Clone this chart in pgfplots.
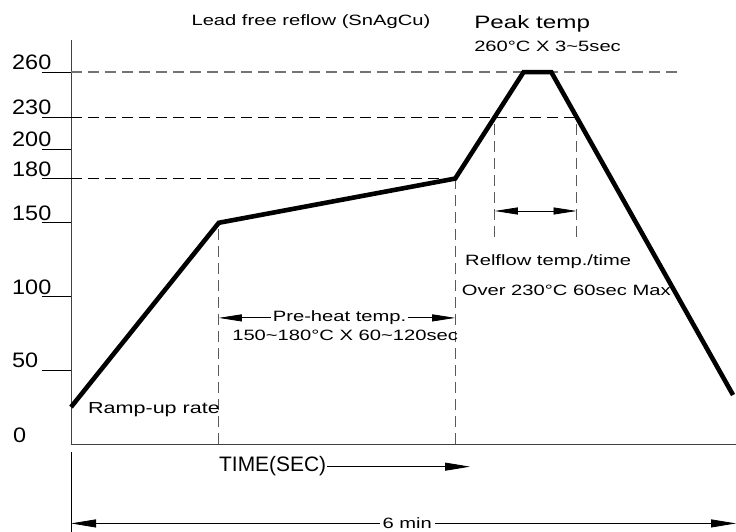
\documentclass[border=0pt]{standalone}
\usepackage{fontspec}
\setmainfont{Liberation Sans}
\newfontfamily\cad[FakeStretch=1.35]{Liberation Sans}
\newfontfamily\cadn[FakeStretch=1.12]{Liberation Sans}
\usepackage{pgfplots}
\pgfplotsset{compat=1.18}
\usetikzlibrary{arrows.meta}
\newcommand{\fs}[1]{\fontsize{#1}{#1}\selectfont}
\begin{document}
\begin{tikzpicture}
\begin{axis}[
  scale only axis, width=665bp, height=404bp,
  xmin=0, xmax=360, ymin=0, ymax=274,
  axis x line=bottom, axis y line=left,
  axis line style={-, black!75, line width=0.9bp},
  xtick=\empty,
  ytick={50,100,150,180,200,221.7,252.2},
  yticklabels={50,100,150,180,200,230,260},
  tick align=outside, major tick length=29bp,
  tick style={black, line width=0.7bp},
  yticklabel style={font=\cadn\fs{21}, anchor=base west, inner sep=0pt, xshift=-30bp, yshift=2.5bp},
  clip=false,
  /pgf/number format/assume math mode=true,
]
% dashed reference lines
\addplot[black!55, line width=1.6bp, dash pattern=on 11bp off 6bp] coordinates {(0,252.2) (328.6,252.2)};
\addplot[black, line width=1bp, dash pattern=on 11bp off 6bp] coordinates {(0,221.7) (273.7,221.7)};
\addplot[black, line width=1bp, dash pattern=on 11bp off 6bp] coordinates {(0,180) (208,180)};
\addplot[black!65, line width=1bp, dash pattern=on 11bp off 6bp] coordinates {(80,0) (80,150)};
\addplot[black!65, line width=1bp, dash pattern=on 11bp off 6bp] coordinates {(208,0) (208,180)};
\addplot[black!65, line width=1bp, dash pattern=on 11bp off 6bp] coordinates {(229.4,140.4) (229.4,221.7)};
\addplot[black!65, line width=1bp, dash pattern=on 11bp off 6bp] coordinates {(273.7,140.4) (273.7,221.7)};
% reflow profile
\addplot[black, line width=4.6bp, line join=miter] coordinates {(0,25) (80,150) (208,180) (245,252.2) (260,252.2) (358.4,33.2)};
% arrows
\draw[{Triangle[length=23bp,width=7bp]}-{Triangle[length=23bp,width=7bp]}, line width=0.8bp] (axis cs:229.4,158) -- (axis cs:273.7,158);
\draw[{Triangle[length=23bp,width=7bp]}-{Triangle[length=23bp,width=7bp]}, line width=0.8bp] (axis cs:80,85.5) -- (axis cs:208,85.5);
\draw[-{Triangle[length=25bp,width=8bp]}, line width=0.8bp] (axis cs:138.6,-15.4) -- (axis cs:216,-15.4);
\draw[{Triangle[length=25bp,width=8bp]}-{Triangle[length=25bp,width=8bp]}, line width=0.8bp] (axis cs:0,-53.9) -- (axis cs:360,-53.9);
\draw[black, line width=0.8bp] (axis cs:0,-5.2) -- (axis cs:0,-59.4);
% texts
\node[font=\cadn\fs{21}, anchor=base west, inner sep=0pt] at (axis cs:-31.4,0.7) {0};
\node[font=\cad\fs{15}, inner sep=0pt] at (axis cs:129.9,286.4) {Lead free reflow (SnAgCu)};
\node[font=\cad\fs{18}, anchor=base west, inner sep=0pt] at (axis cs:218.2,282.1) {Peak temp};
\node[font=\cad\fs{15}, anchor=base west, inner sep=0pt] at (axis cs:218.2,266.1) {260°C X 3\textasciitilde5sec};
\node[font=\cad\fs{15}, anchor=base west, inner sep=0pt] at (axis cs:213.3,120.7) {Relflow temp./time};
\node[font=\cad\fs{15}, anchor=base west, inner sep=0pt] at (axis cs:211.5,101) {Over 230°C 60sec Max};
\node[font=\cad\fs{15}, anchor=base, fill=white, inner xsep=2bp, inner ysep=0pt] at (axis cs:145.4,82.9) {Pre-heat temp.};
\node[font=\cad\fs{15}, anchor=base west, inner sep=0pt] at (axis cs:87.2,70.5) {150\textasciitilde180°C X 60\textasciitilde120sec};
\node[font=\cad\fs{16}, anchor=base west, inner sep=0pt] at (axis cs:9.2,20.8) {Ramp-up rate};
\node[font=\fs{21}, anchor=base west, inner sep=0pt] at (axis cs:80.1,-18.8) {TIME(SEC)};
\node[font=\cad\fs{15}, anchor=base, fill=white, inner xsep=3bp, inner ysep=1bp] at (axis cs:182,-57.3) {6 min};
\coordinate (BL) at (axis cs:-38.44,-59.4);
\coordinate (TR) at (axis cs:360,301.1);
\end{axis}
\pgfresetboundingbox
\path (BL) rectangle (TR);
\end{tikzpicture}
\end{document}
